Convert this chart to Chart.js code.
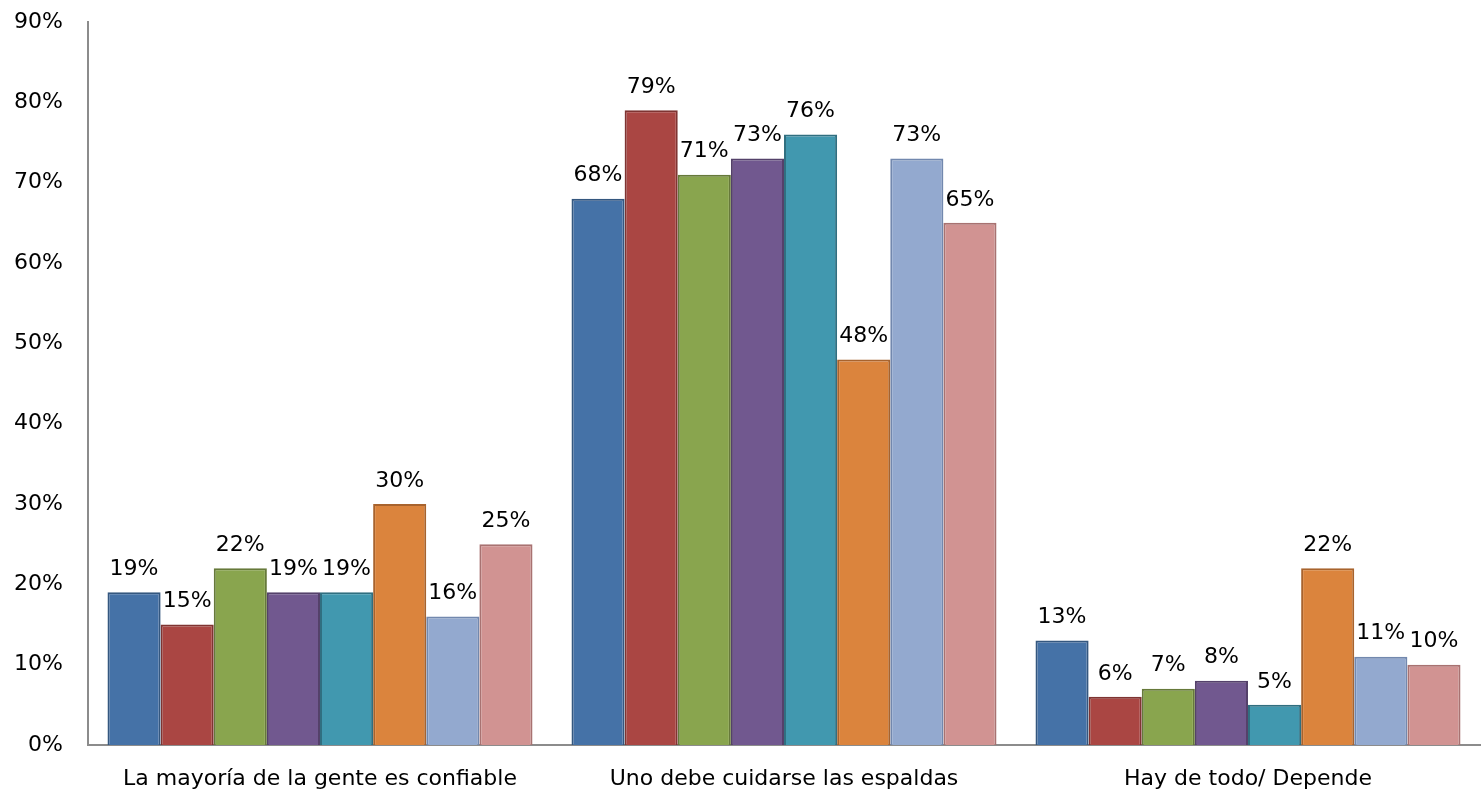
<!DOCTYPE html>
<html>
<head>
<meta charset="utf-8">
<script src="https://cdn.jsdelivr.net/npm/chart.js@4"></script>
<style>
html,body{margin:0;padding:0;background:#fff;}
#wrap{width:1484px;height:792px;position:relative;}
</style>
</head>
<body>
<div id="wrap"><canvas id="c"></canvas></div>
<script>
const categories = ["La mayoría de la gente es confiable", "Uno debe cuidarse las espaldas", "Hay de todo/ Depende"];
const seriesNames = ["Serie 1", "Serie 2", "Serie 3", "Serie 4", "Serie 5", "Serie 6", "Serie 7", "Serie 8"];
const serie1 = [19, 68, 13];
const serie2 = [15, 79, 6];
const serie3 = [22, 71, 7];
const serie4 = [19, 73, 8];
const serie5 = [19, 76, 5];
const serie6 = [30, 48, 22];
const serie7 = [16, 73, 11];
const serie8 = [25, 65, 10];
const yTicks = [0, 10, 20, 30, 40, 50, 60, 70, 80, 90];

const seriesValues = [serie1, serie2, serie3, serie4, serie5, serie6, serie7, serie8];
const fills = ["#4572A7", "#AA4643", "#89A54E", "#71588F", "#4198AF", "#DB843D", "#93A9CF", "#D19392"];
const borders = ["#34577F", "#7F3432", "#66793A", "#54416A", "#306F80", "#A8632D", "#7288AE", "#A87271"];
const FONT = "'DejaVu Sans', sans-serif";

const labelPlugin = {
  id: 'barLabels',
  afterDatasetsDraw(chart) {
    const ctx = chart.ctx;
    ctx.save();
    ctx.font = "22px " + FONT;
    ctx.fillStyle = "#000";
    ctx.textAlign = "center";
    ctx.textBaseline = "bottom";
    chart.data.datasets.forEach((ds, i) => {
      const meta = chart.getDatasetMeta(i);
      meta.data.forEach((bar, j) => {
        ctx.fillText(ds.data[j] + "%", bar.x, bar.y - 12);
      });
    });
    ctx.restore();
  }
};

new Chart(document.getElementById('c'), {
  type: 'bar',
  data: {
    labels: categories,
    datasets: seriesValues.map((v, i) => ({
      label: seriesNames[i],
      data: v,
      backgroundColor: fills[i],
      borderColor: borders[i],
      borderWidth: 2,
      barPercentage: 1,
      categoryPercentage: 0.916
    }))
  },
  options: {
    responsive: true,
    maintainAspectRatio: false,
    animation: false,
    layout: { padding: { top: 22, right: 4, left: 0, bottom: 0 } },
    plugins: { legend: { display: false }, tooltip: { enabled: false } },
    scales: {
      x: {
        grid: { display: false, drawTicks: false },
        border: { display: true, color: "#8c8c8c", width: 2 },
        ticks: { color: "#000", font: { size: 22, family: FONT }, padding: 21, maxRotation: 0 },
        afterFit(s) { s.height = 47; s.paddingTop = 0; s.paddingBottom = 0; }
      },
      y: {
        min: 0, max: 90,
        grid: { display: false, drawTicks: false },
        border: { display: true, color: "#8c8c8c", width: 2 },
        afterBuildTicks(s) { s.ticks = yTicks.map(v => ({ value: v })); },
        ticks: { color: "#000", font: { size: 22, family: FONT }, padding: 25, callback: v => v + "%" },
        afterFit(s) { s.width = 88; s.paddingTop = 0; s.paddingBottom = 0; }
      }
    }
  },
  plugins: [labelPlugin]
});
</script>
</body>
</html>
